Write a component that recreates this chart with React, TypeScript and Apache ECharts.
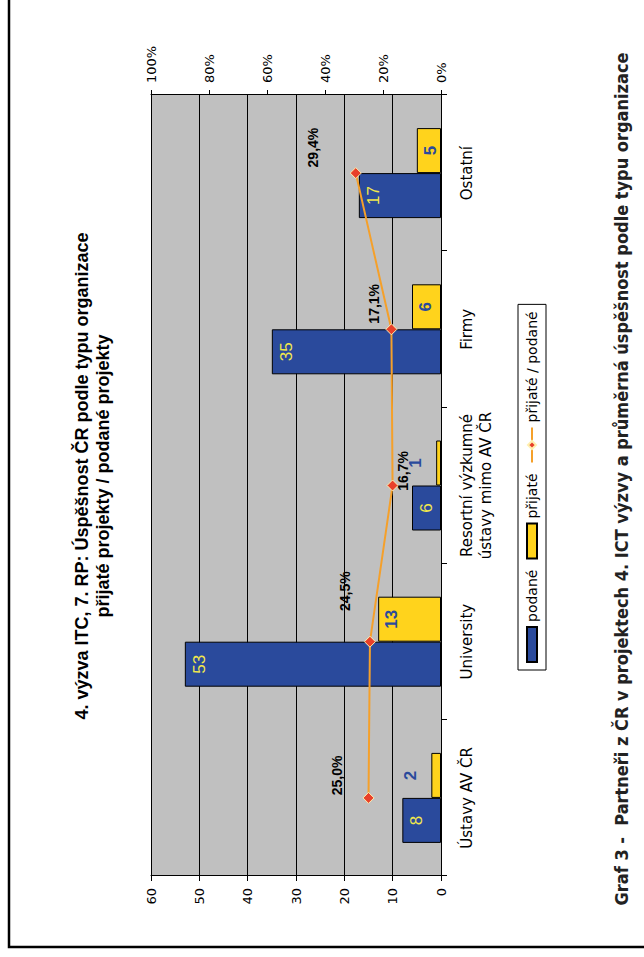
import React, { useEffect, useRef } from 'react';
import * as echarts from 'echarts';

// ---- data ----
const categories = ['Ústavy AV ČR', 'University', 'Resortní výzkumné\nústavy mimo AV ČR', 'Firmy', 'Ostatní'];
const podane = [8, 53, 6, 35, 17];
const prijate = [2, 13, 1, 6, 5];
const uspesnost = [25.0, 24.5, 16.7, 17.1, 29.4];
const seriesNames = ['podané', 'přijaté', 'přijaté / podané'];
const countAxisMax = 60;
const countAxisStep = 10;
const percentAxisMax = 100;
const percentAxisStep = 20;
const titleLines = ['4. výzva ITC, 7. RP: Úspěšnost ČR podle typu organizace', 'přijaté projekty / podané projekty'];
const captionText = 'Graf 3 -  Partneři z ČR v projektech 4. ICT výzvy a průměrná úspěšnost podle typu organizace';

// label placement (style, not data): centre displacement from the marker
const lineLabelShift = [[23, -31], [51, -24], [15, 11], [26, -17], [26, -42]];
const SYMBOL = 11;

const W = 957;
const H = 644;

function buildOption(): any {
  return {
    animation: false,
    backgroundColor: '#ffffff',
    title: {
      text: titleLines.join('\n'),
      left: 476,
      top: 66,
      textAlign: 'center',
      textStyle: {
        fontSize: 18,
        fontWeight: 'bold',
        fontFamily: '"Liberation Sans", Arial, sans-serif',
        color: '#000',
        lineHeight: 21,
      },
    },
    legend: {
      left: 287,
      top: 518,
      orient: 'horizontal',
      padding: [7, 7, 7, 7],
      itemWidth: 35,
      itemHeight: 10,
      itemGap: 10,
      borderColor: '#000',
      borderWidth: 1,
      backgroundColor: '#ffffff',
      textStyle: { fontSize: 14, fontFamily: '"DejaVu Sans", sans-serif', color: '#000' },
      data: [
        { name: seriesNames[0], icon: 'rect' },
        { name: seriesNames[1], icon: 'rect' },
        { name: seriesNames[2] },
      ],
    },
    grid: {
      left: 81,
      right: 95,
      top: 151,
      bottom: 203,
      show: true,
      backgroundColor: '#c0c0c0',
      borderWidth: 0,
    },
    xAxis: {
      type: 'category',
      data: categories,
      axisLine: { lineStyle: { color: '#000', width: 1 } },
      axisTick: { show: true, length: 6, lineStyle: { color: '#000' } },
      axisLabel: {
        color: '#000',
        fontSize: 15,
        fontFamily: '"DejaVu Sans", sans-serif',
        margin: 16,
        lineHeight: 19,
        interval: 0,
      },
    },
    yAxis: [
      {
        type: 'value',
        position: 'left',
        min: 0,
        max: countAxisMax,
        interval: countAxisStep,
        axisLine: { show: true, lineStyle: { color: '#000' } },
        axisTick: { show: true, length: 5, lineStyle: { color: '#000' } },
        axisLabel: { color: '#000', fontSize: 13, fontFamily: '"DejaVu Sans", sans-serif', margin: 12 },
        splitLine: { show: true, lineStyle: { color: '#000', width: 1 } },
      },
      {
        type: 'value',
        position: 'right',
        min: 0,
        max: percentAxisMax,
        interval: percentAxisStep,
        axisLine: { show: true, lineStyle: { color: '#000' } },
        axisTick: { show: true, length: 5, lineStyle: { color: '#000' } },
        axisLabel: {
          color: '#000',
          fontSize: 13,
          fontFamily: '"DejaVu Sans", sans-serif',
          margin: 12,
          formatter: '{value}%',
        },
        splitLine: { show: false },
      },
    ],
    series: [
      {
        name: seriesNames[0],
        type: 'bar',
        barWidth: 45,
        barGap: '0%',
        itemStyle: { color: '#2a4a9c', borderColor: '#000', borderWidth: 1 },
        label: {
          show: true,
          position: 'insideTop',
          distance: 6,
          color: '#f2e84c',
          fontSize: 17,
          fontFamily: '"Liberation Sans", Arial, sans-serif',
        },
        data: podane,
      },
      {
        name: seriesNames[1],
        type: 'bar',
        barWidth: 45,
        barGap: '0%',
        itemStyle: { color: '#ffd31c', borderColor: '#000', borderWidth: 1 },
        label: {
          show: true,
          color: '#2a4a9c',
          fontWeight: 'bold',
          fontSize: 17,
          fontFamily: '"Liberation Sans", Arial, sans-serif',
        },
        data: prijate.map((v) => ({
          value: v,
          label: v < 3 ? { position: 'top', distance: 12 } : { position: 'insideTop', distance: 5 },
        })),
      },
      {
        name: seriesNames[2],
        type: 'line',
        yAxisIndex: 1,
        symbol: 'diamond',
        symbolSize: SYMBOL,
        lineStyle: { color: '#f5a02a', width: 2 },
        itemStyle: { color: '#e8402a', borderColor: '#fff0b0', borderWidth: 1 },
        labelLayout: { moveOverlap: false, hideOverlap: false },
        label: {
          show: true,
          color: '#000',
          fontWeight: 'bold',
          fontSize: 14,
          fontFamily: '"Liberation Sans", Arial, sans-serif',
          align: 'center',
          verticalAlign: 'middle',
          formatter: (p: any) => Number(p.value).toFixed(1).replace('.', ',') + '%',
        },
        data: uspesnost.map((v, i) => ({
          value: v,
          label: {
            position: [lineLabelShift[i][0] + SYMBOL / 2, lineLabelShift[i][1] + SYMBOL / 2],
            align: 'center',
            verticalAlign: 'middle',
          },
        })),
      },
    ],
    graphic: [
      {
        type: 'rect',
        silent: true,
        shape: { x: 10, y: 9, width: 980, height: 680 },
        style: { fill: 'none', stroke: '#000', lineWidth: 2.5 },
      },
      {
        type: 'text',
        silent: true,
        x: 478,
        y: 621,
        style: {
          text: captionText,
          fontSize: 18,
          fontWeight: 'bold',
          fontFamily: '"DejaVu Sans Condensed", "Liberation Sans Narrow", sans-serif',
          fill: '#222',
          align: 'center',
          verticalAlign: 'middle',
        },
      },
    ],
  };
}

export default function App() {
  const ref = useRef<HTMLDivElement>(null);
  useEffect(() => {
    if (!ref.current) return;
    const chart = echarts.init(ref.current, null, { renderer: 'svg' });
    chart.setOption(buildOption());
    return () => chart.dispose();
  }, []);
  return (
    <div
      style={{
        position: 'absolute',
        left: 0,
        top: 0,
        width: H,
        height: W,
        overflow: 'hidden',
        background: '#fff',
      }}
    >
      <div
        ref={ref}
        style={{
          position: 'absolute',
          left: 0,
          top: 0,
          width: W,
          height: H,
          transformOrigin: '0 0',
          transform: `translate(0px, ${W}px) rotate(-90deg)`,
        }}
      />
    </div>
  );
}
